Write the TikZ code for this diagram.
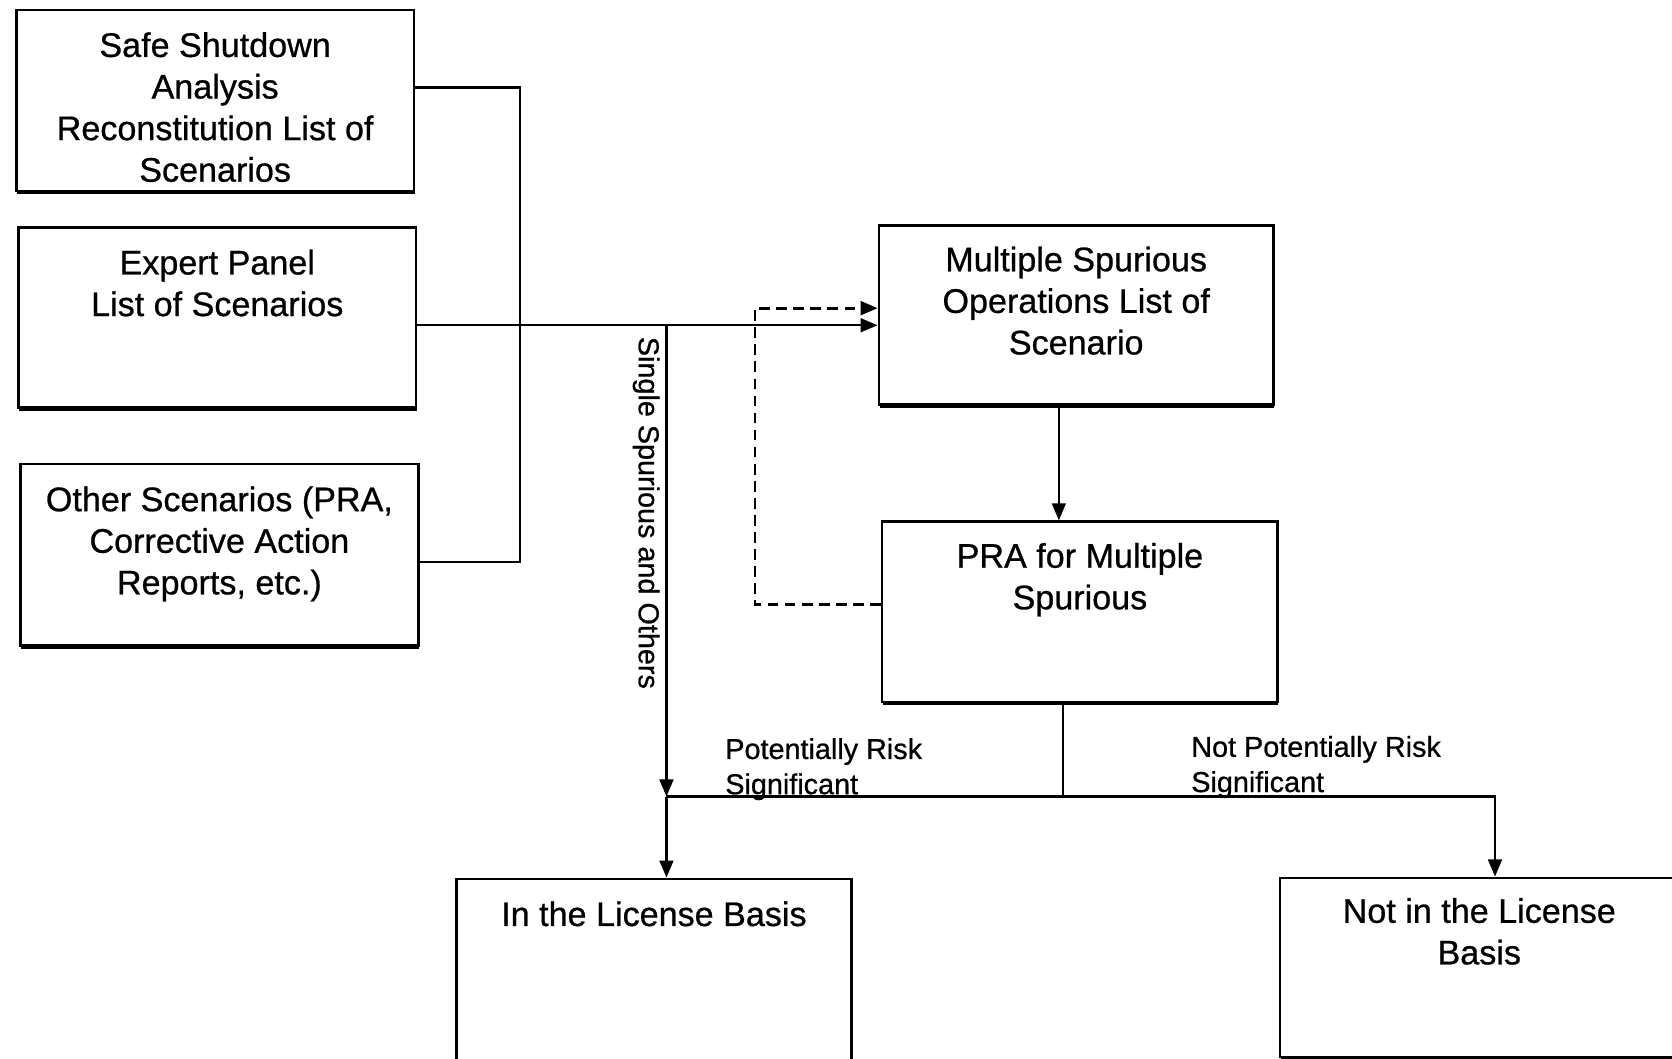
\documentclass[tikz,border=0pt]{standalone}
\usepackage{fontspec}
\setmainfont{Liberation Sans}[FakeBold=0.7]
\usetikzlibrary{arrows.meta,shadows}
\begin{document}
\begin{tikzpicture}[x=1pt,y=-1pt,
  box/.style={draw=black, line width=2.5pt, fill=white, anchor=north west, inner sep=0pt,
    drop shadow={shadow xshift=0.6pt, shadow yshift=-3pt, fill=black, opacity=1}},
  boxtxt/.style={anchor=north, align=center, inner sep=0pt, font=\fontsize{32}{39}\selectfont},
  lbl/.style={align=left, inner sep=0pt, font=\fontsize{27}{33}\selectfont},
  conn/.style={line width=2pt},
  arr/.style={-{Triangle[length=16pt,width=13pt]}},
  dsh/.style={line width=2.6pt, dash pattern=on 10pt off 6pt}]
\useasboundingbox (0,0) rectangle (1568,993);
\clip (0,0) rectangle (1568,993);
\fill[white] (0,0) rectangle (1568,993);

% boxes
\node[box, minimum width=373pt, minimum height=170pt] (ssa) at (14,8) {};
\node[box, minimum width=373pt, minimum height=169pt] (ep) at (16,212) {};
\node[box, minimum width=373pt, minimum height=170pt] (oth) at (18,434) {};
\node[box, minimum width=370pt, minimum height=168pt] (mso) at (823,210) {};
\node[box, minimum width=371pt, minimum height=169pt] (pra) at (826,488) {};
\node[box, minimum width=370pt, minimum height=176pt] (ilb) at (427,823) {};
\node[box, minimum width=374pt, minimum height=168pt] (nlb) at (1199,822) {};

% box texts
\node[boxtxt] (ssat) at ([yshift=-22pt]ssa.north) {Safe Shutdown\\Analysis\\Reconstitution List of\\Scenarios};
\node[boxtxt] (ept) at ([yshift=-22pt]ep.north) {Expert Panel\\List of Scenarios};
\node[boxtxt] (otht) at ([yshift=-22pt]oth.north) {Other Scenarios (PRA,\\Corrective Action\\Reports, etc.)};
\node[boxtxt] (msot) at ([yshift=-21pt]mso.north) {Multiple Spurious\\Operations List of\\Scenario};
\node[boxtxt] (prat) at ([yshift=-21pt]pra.north) {PRA for Multiple\\Spurious};
\node[boxtxt] (ilbt) at ([yshift=-22pt]ilb.north) {In the License Basis};
\node[boxtxt, anchor=north] (nlbt) at ([yshift=-20pt]nlb.north) {Not in the License\\Basis};

% helper coordinates
\coordinate (xBus) at (488,0);
\coordinate (yS) at (0,82);
\coordinate (yO) at (0,527);
\coordinate (yE) at (0,305);
\coordinate (yU) at (0,289);
\coordinate (yL) at (0,567);
\coordinate (xL) at (708,0);
\coordinate (xM) at (993,0);
\coordinate (xP) at (997,0);
\coordinate (xR) at (1402,0);
\coordinate (jS) at (625,305);
\coordinate (jH) at (625,747);

% connectors
\draw[conn] (ssa.east |- yS) -- (xBus |- yS) -- (xBus |- yO) -- (oth.east |- yO);
\draw[conn,arr] (ep.east |- yE) -- (mso.west |- yE);
\draw[dsh,arr] (pra.west |- yL) -| (xL |- yU) -- (mso.west |- yU);
\draw[conn,arr] (mso.south -| xM) -- (pra.north -| xM);
\draw[conn,arr] (jS) -- (jH);
\draw[conn,arr] (jH) -- (ilb.north -| jH);
\draw[conn] (pra.south -| xP) -- (xP |- jH);
\draw[conn,arr] (jH) -| (nlb.north -| xR);

% labels
\node[lbl, rotate=-90] (ssl) at (606,481) {Single Spurious and Others};
\node[lbl, anchor=north west] (prs) at (680,692) {Potentially Risk\\Significant};
\node[lbl, anchor=north west] (nprs) at (1117,690) {Not Potentially Risk\\Significant};
\end{tikzpicture}
\end{document}
